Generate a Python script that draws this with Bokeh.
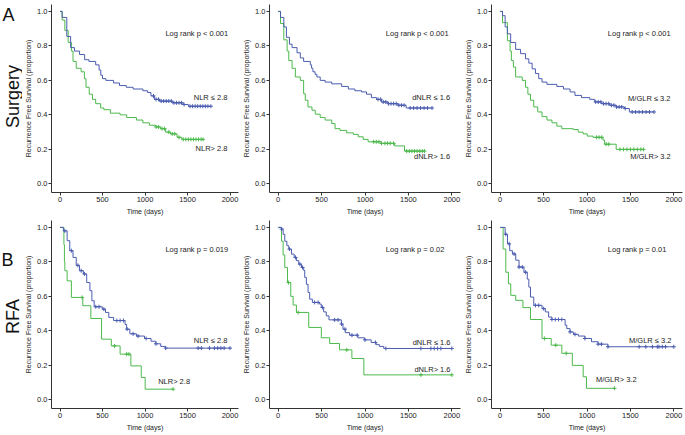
import numpy as np
from bokeh.plotting import figure
from bokeh.layouts import row, column
from bokeh.models import Range1d, FixedTicker, PrintfTickFormatter
from bokeh.core.properties import value
from bokeh.embed import file_html
from bokeh.resources import INLINE

FONT = "Liberation Sans"
BLUE = "#4b5cb0"
GREEN = "#4cb94c"

# ---------------- data (days, survival proportion) ----------------
# Surgery, NLR
s_nlr_lo_t = [0, 25, 80, 125, 170, 230, 290, 340, 420, 460, 480, 500, 540, 630, 700, 780, 860, 975, 1030, 1070, 1110, 1170, 1320, 1450, 1510]
s_nlr_lo_s = [1.0, 0.965, 0.855, 0.79, 0.77, 0.75, 0.72, 0.71, 0.69, 0.66, 0.63, 0.61, 0.60, 0.585, 0.57, 0.56, 0.55, 0.54, 0.53, 0.51, 0.49, 0.48, 0.47, 0.46, 0.45]
s_nlr_lo_end = 1775
s_nlr_lo_c = [1100, 1130, 1160, 1190, 1220, 1250, 1280, 1310, 1340, 1370, 1400, 1430, 1460, 1530, 1560, 1590, 1620, 1650, 1680, 1710, 1740, 1775]
s_nlr_hi_t = [0, 25, 57, 96, 134, 153, 191, 249, 287, 306, 344, 382, 420, 478, 516, 593, 707, 784, 899, 975, 1052, 1128, 1185, 1243, 1300, 1377, 1434]
s_nlr_hi_s = [1.0, 0.95, 0.89, 0.82, 0.77, 0.71, 0.67, 0.65, 0.61, 0.56, 0.52, 0.49, 0.465, 0.44, 0.43, 0.41, 0.40, 0.385, 0.37, 0.354, 0.34, 0.33, 0.32, 0.30, 0.29, 0.27, 0.258]
s_nlr_hi_end = 1683
s_nlr_hi_c = [1130, 1160, 1200, 1230, 1280, 1320, 1350, 1400, 1450, 1480, 1510, 1540, 1570, 1600, 1630, 1660, 1683]

# Surgery, dNLR
s_dnlr_lo_t = [0, 27, 65, 95, 130, 160, 217, 255, 293, 370, 385, 400, 425, 446, 484, 541, 617, 731, 808, 884, 960, 1017, 1074, 1132, 1189, 1265, 1379, 1474]
s_dnlr_lo_s = [1.0, 0.965, 0.91, 0.85, 0.81, 0.79, 0.76, 0.73, 0.71, 0.69, 0.67, 0.65, 0.635, 0.62, 0.60, 0.59, 0.58, 0.565, 0.55, 0.54, 0.533, 0.52, 0.50, 0.49, 0.475, 0.465, 0.456, 0.44]
s_dnlr_lo_end = 1772
s_dnlr_lo_c = [1150, 1180, 1210, 1240, 1270, 1300, 1330, 1360, 1390, 1420, 1450, 1520, 1560, 1600, 1640, 1680, 1720, 1772]
s_dnlr_hi_t = [0, 27, 65, 103, 122, 160, 198, 255, 293, 312, 343, 389, 427, 484, 541, 617, 655, 712, 789, 865, 922, 979, 1036, 1189, 1341, 1455]
s_dnlr_hi_s = [1.0, 0.93, 0.835, 0.77, 0.715, 0.67, 0.62, 0.60, 0.523, 0.485, 0.446, 0.427, 0.404, 0.385, 0.37, 0.35, 0.32, 0.31, 0.296, 0.287, 0.273, 0.258, 0.244, 0.235, 0.22, 0.19]
s_dnlr_hi_end = 1686
s_dnlr_hi_c = [1100, 1130, 1160, 1190, 1230, 1260, 1290, 1330, 1480, 1510, 1540, 1570, 1600, 1630, 1660, 1686]

# Surgery, M/GLR
s_mglr_lo_t = [0, 27, 57, 83, 121, 178, 235, 292, 330, 368, 406, 444, 482, 539, 653, 729, 805, 861, 937, 1032, 1089, 1165, 1260, 1336, 1431, 1488]
s_mglr_lo_s = [1.0, 0.975, 0.91, 0.87, 0.82, 0.78, 0.755, 0.725, 0.70, 0.667, 0.64, 0.61, 0.59, 0.577, 0.565, 0.55, 0.533, 0.513, 0.50, 0.49, 0.475, 0.465, 0.456, 0.446, 0.437, 0.417]
s_mglr_lo_end = 1772
s_mglr_lo_c = [1100, 1130, 1160, 1190, 1220, 1250, 1280, 1310, 1340, 1370, 1400, 1440, 1520, 1560, 1600, 1640, 1680, 1720, 1772]
s_mglr_hi_t = [0, 27, 83, 114, 129, 152, 178, 254, 292, 319, 349, 387, 433, 482, 539, 596, 653, 710, 842, 899, 956, 1002, 1070, 1184, 1203, 1336]
s_mglr_hi_s = [1.0, 0.935, 0.83, 0.77, 0.715, 0.677, 0.62, 0.60, 0.56, 0.52, 0.485, 0.446, 0.417, 0.39, 0.37, 0.354, 0.335, 0.32, 0.315, 0.30, 0.29, 0.277, 0.27, 0.254, 0.23, 0.20]
s_mglr_hi_end = 1650
s_mglr_hi_c = [1110, 1140, 1170, 1220, 1250, 1380, 1420, 1460, 1500, 1540, 1580, 1620, 1650]

# RFA, NLR
r_nlr_lo_t = [0, 40, 84, 115, 153, 191, 229, 275, 314, 352, 375, 402, 497, 535, 574, 631, 765, 784, 822, 899, 994, 1071, 1128, 1185, 1243]
r_nlr_lo_s = [1.0, 0.98, 0.923, 0.865, 0.826, 0.78, 0.749, 0.73, 0.68, 0.633, 0.575, 0.54, 0.526, 0.507, 0.478, 0.46, 0.437, 0.41, 0.383, 0.37, 0.356, 0.34, 0.325, 0.31, 0.30]
r_nlr_lo_end = 2000
r_nlr_lo_c = [57, 134, 210, 249, 287, 421, 459, 516, 669, 707, 746, 790, 860, 918, 1013, 1128, 1243, 1625, 1663, 1759, 1816, 1855, 1893, 1931, 2000]
r_nlr_hi_t = [0, 46, 52, 57, 84, 134, 268, 363, 489, 604, 707, 834, 956, 1002]
r_nlr_hi_s = [1.0, 0.90, 0.80, 0.749, 0.69, 0.594, 0.546, 0.472, 0.352, 0.313, 0.265, 0.197, 0.13, 0.062]
r_nlr_hi_end = 1331
r_nlr_hi_c = [260, 642, 784, 811, 1331]

# RFA, dNLR
r_dnlr_lo_t = [0, 38, 57, 76, 100, 122, 153, 184, 210, 237, 268, 294, 306, 325, 344, 363, 394, 478, 497, 524, 554, 585, 727, 746, 772, 822, 918, 994, 1071, 1128, 1166, 1216]
r_dnlr_lo_s = [1.0, 0.99, 0.96, 0.92, 0.894, 0.874, 0.845, 0.826, 0.807, 0.787, 0.768, 0.75, 0.71, 0.67, 0.623, 0.584, 0.565, 0.555, 0.536, 0.51, 0.487, 0.464, 0.44, 0.41, 0.39, 0.375, 0.36, 0.348, 0.333, 0.32, 0.31, 0.298]
r_dnlr_lo_end = 2000
r_dnlr_lo_c = [40, 130, 200, 250, 280, 420, 460, 510, 650, 690, 730, 770, 850, 910, 1000, 1120, 1240, 1644, 1759, 1797, 1836, 1874, 2000]
r_dnlr_hi_t = [0, 38, 57, 76, 107, 145, 172, 210, 352, 497, 593, 707, 849, 987]
r_dnlr_hi_s = [1.0, 0.92, 0.84, 0.768, 0.68, 0.60, 0.55, 0.507, 0.42, 0.36, 0.327, 0.29, 0.24, 0.145]
r_dnlr_hi_end = 2000
r_dnlr_hi_c = [120, 230, 790, 1644, 2000]

# RFA, M/GLR
r_mglr_lo_t = [0, 57, 84, 110, 141, 179, 217, 274, 312, 330, 349, 387, 482, 520, 558, 596, 748, 767, 805, 843, 900, 976, 1052, 1128, 1241]
r_mglr_lo_s = [1.0, 0.96, 0.905, 0.865, 0.846, 0.81, 0.77, 0.74, 0.70, 0.654, 0.596, 0.548, 0.529, 0.51, 0.48, 0.466, 0.433, 0.413, 0.394, 0.38, 0.37, 0.356, 0.337, 0.323, 0.308]
r_mglr_lo_end = 2000
r_mglr_lo_c = [65, 103, 160, 217, 255, 293, 406, 444, 501, 596, 634, 672, 710, 805, 862, 976, 1128, 1166, 1241, 1601, 1677, 1753, 1810, 1829, 1867, 1905, 2000]
r_mglr_hi_t = [0, 34, 65, 95, 122, 179, 262, 349, 482, 588, 710, 831, 956, 994]
r_mglr_hi_s = [1.0, 0.875, 0.74, 0.673, 0.606, 0.577, 0.535, 0.466, 0.356, 0.317, 0.27, 0.20, 0.134, 0.067]
r_mglr_hi_end = 1317
r_mglr_hi_c = [512, 640, 760, 1317]

x_ticks = [0, 500, 1000, 1500, 2000]
y_ticks = [0.0, 0.2, 0.4, 0.6, 0.8, 1.0]

panels = [
    dict(lo=(s_nlr_lo_t, s_nlr_lo_s, s_nlr_lo_end, s_nlr_lo_c), hi=(s_nlr_hi_t, s_nlr_hi_s, s_nlr_hi_end, s_nlr_hi_c),
         p="Log rank p < 0.001", lo_lab=("NLR \u2264 2.8", 1970, 0.50), hi_lab=("NLR> 2.8", 1970, 0.208)),
    dict(lo=(s_dnlr_lo_t, s_dnlr_lo_s, s_dnlr_lo_end, s_dnlr_lo_c), hi=(s_dnlr_hi_t, s_dnlr_hi_s, s_dnlr_hi_end, s_dnlr_hi_c),
         p="Log rank p < 0.001", lo_lab=("dNLR \u2264 1.6", 1980, 0.50), hi_lab=("dNLR> 1.6", 1980, 0.158)),
    dict(lo=(s_mglr_lo_t, s_mglr_lo_s, s_mglr_lo_end, s_mglr_lo_c), hi=(s_mglr_hi_t, s_mglr_hi_s, s_mglr_hi_end, s_mglr_hi_c),
         p="Log rank p < 0.001", lo_lab=("M/GLR \u2264 3.2", 1962, 0.494), hi_lab=("M/GLR> 3.2", 1965, 0.158)),
    dict(lo=(r_nlr_lo_t, r_nlr_lo_s, r_nlr_lo_end, r_nlr_lo_c), hi=(r_nlr_hi_t, r_nlr_hi_s, r_nlr_hi_end, r_nlr_hi_c),
         p="Log rank p = 0.019", lo_lab=("NLR \u2264 2.8", 1970, 0.342), hi_lab=("NLR> 2.8", 1530, 0.106)),
    dict(lo=(r_dnlr_lo_t, r_dnlr_lo_s, r_dnlr_lo_end, r_dnlr_lo_c), hi=(r_dnlr_hi_t, r_dnlr_hi_s, r_dnlr_hi_end, r_dnlr_hi_c),
         p="Log rank p = 0.02", lo_lab=("dNLR \u2264 1.6", 1985, 0.33), hi_lab=("dNLR> 1.6", 1985, 0.174)),
    dict(lo=(r_mglr_lo_t, r_mglr_lo_s, r_mglr_lo_end, r_mglr_lo_c), hi=(r_mglr_hi_t, r_mglr_hi_s, r_mglr_hi_end, r_mglr_hi_c),
         p="Log rank p = 0.01", lo_lab=("M/GLR \u2264 3.2", 1973, 0.346), hi_lab=("M/GLR> 3.2", 1571, 0.12)),
]

# figure geometry per column / row: (width, left border, right border)
COLS = [(218, 24, 2), (222, 28, 2), (222, 28, 2)]
# (height, top border, bottom border)
ROWS = [(217, 4, 24), (217, 3, 26)]


def draw_curve(p, t, s, end, cens, color):
    xs = list(t) + [end]
    ys = list(s) + [s[-1]]
    p.step(xs, ys, mode="after", line_color=color, line_width=1)
    ta = np.array(t, dtype=float)
    sa = np.array(s, dtype=float)
    idx = np.searchsorted(ta, np.array(cens, dtype=float), side="right") - 1
    p.scatter(list(cens), list(sa[idx]), marker="cross", size=4, line_color=color, line_width=1)


def make_panel(d, col, rw):
    w, bl, br = COLS[col]
    h, bt, bb = ROWS[rw]
    p = figure(width=w, height=h, x_range=Range1d(-100, 2100), y_range=Range1d(-0.05, 1.04),
               output_backend="svg", toolbar_location=None,
               min_border_left=bl, min_border_right=br, min_border_top=bt, min_border_bottom=bb)
    p.outline_line_color = None
    p.xgrid.visible = False
    p.ygrid.visible = False
    for ax in (p.xaxis[0], p.yaxis[0]):
        ax.axis_line_color = "#333333"
        ax.major_tick_line_color = "#333333"
        ax.minor_tick_line_color = None
        ax.major_tick_out = 3
        ax.major_tick_in = 0
        ax.major_label_text_font = FONT
        ax.major_label_text_font_size = "7.5px"
        ax.major_label_text_color = "#222222"
        ax.major_label_standoff = 1
        ax.axis_label_text_font = FONT
        ax.axis_label_text_font_size = "7px"
        ax.axis_label_text_font_style = "normal"
        ax.axis_label_text_color = "#222222"
        ax.axis_label_standoff = 2
    p.xaxis[0].axis_label_standoff = 3
    p.xaxis[0].ticker = FixedTicker(ticks=x_ticks)
    p.yaxis[0].ticker = FixedTicker(ticks=y_ticks)
    p.yaxis[0].formatter = PrintfTickFormatter(format="%.1f")
    p.xaxis[0].axis_label = "Time (days)"
    p.yaxis[0].axis_label = "Recurrence Free Survival (proportion)"

    draw_curve(p, *d["hi"], GREEN)
    draw_curve(p, *d["lo"], BLUE)

    p.text(x=[1240], y=[0.87], text=[d["p"]], text_font=value(FONT), text_font_size="7.5px",
           text_color="#222222", text_align="left", text_baseline="middle")
    for lab in (d["lo_lab"], d["hi_lab"]):
        p.text(x=[lab[1]], y=[lab[2]], text=[lab[0]], text_font=value(FONT), text_font_size="7.5px",
               text_color="#222222", text_align="right", text_baseline="middle")
    return p


figs = [make_panel(d, i % 3, i // 3) for i, d in enumerate(panels)]

# left-hand row labels
LAB_W, LAB_H = 22, 434
lab = figure(width=LAB_W, height=LAB_H, x_range=Range1d(0, LAB_W), y_range=Range1d(0, LAB_H),
             output_backend="svg", toolbar_location=None, min_border=0)
lab.axis.visible = False
lab.grid.visible = False
lab.outline_line_color = None
lab.text(x=[2, 1], y=[LAB_H - 4, LAB_H - 249], text=["A", "B"], text_font=value(FONT), text_font_size="18px",
         text_color="#111111", text_align="left", text_baseline="top")
lab.text(x=[12, 12], y=[LAB_H - 96, LAB_H - 316], text=["Surgery", "RFA"], text_font=value(FONT),
         text_font_size="18px", text_color="#111111", text_align="center", text_baseline="middle",
         angle=np.pi / 2)

layout = row(lab, column(row(figs[0], figs[1], figs[2]), row(figs[3], figs[4], figs[5])))

open("out.html", "w").write(file_html(layout, INLINE))
